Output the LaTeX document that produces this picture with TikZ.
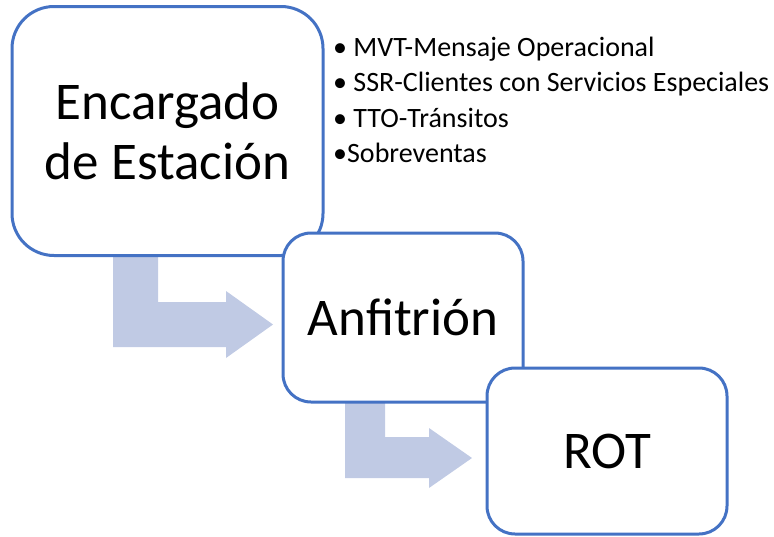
\documentclass[tikz,border=0pt]{standalone}
\usepackage{fontspec}
\setmainfont{Carlito}
\usepackage{tikz}
\definecolor{bordeazul}{HTML}{4472C4}
\definecolor{flechagris}{HTML}{C0CAE4}
\tikzset{
	caja/.style={draw=bordeazul,line width=3pt,fill=white,inner sep=0pt,align=center,font=\fontsize{53}{60}\selectfont},
	flecha/.style={fill=flechagris,draw=none},
	punto/.style={anchor=base west,inner sep=0pt,font=\fontsize{28}{33}\selectfont}
}

\begin{document}
\begin{tikzpicture}[x=1pt,y=-1pt]
	\useasboundingbox (0,0) rectangle (774,536);
	% flechas dobladas
	\fill[flecha] (113,250) -- (158,250) -- (158,302) -- (226,302) -- (226,291) -- (273,324.5) -- (226,358) -- (226,347) -- (113,347) -- cycle;
	\fill[flecha] (345,398) -- (385,398) -- (385,437) -- (429,437) -- (429,428) -- (472,458) -- (429,488) -- (429,478) -- (345,478) -- cycle;
	% cajas
	\node[caja,rounded corners=42pt,minimum width=311pt,minimum height=249pt] (estacion) at (167.5,131) {Encargado\\de Estación};
	\node[caja,rounded corners=28pt,minimum width=240pt,minimum height=169pt] (anfitrion) at (403,317.5) {Anfitrión};
	\node[caja,rounded corners=28pt,minimum width=240pt,minimum height=166pt] (rot) at (607,451) {ROT};
	% lista
	\foreach \i/\y/\t in {1/56/{• MVT-Mensaje Operacional},2/91.5/{• SSR-Clientes con Servicios Especiales},3/127/{• TTO-Tránsitos},4/162.5/{•Sobreventas}}
		\node[punto] (item\i) at (333,\y) {\t};
\end{tikzpicture}
\end{document}
